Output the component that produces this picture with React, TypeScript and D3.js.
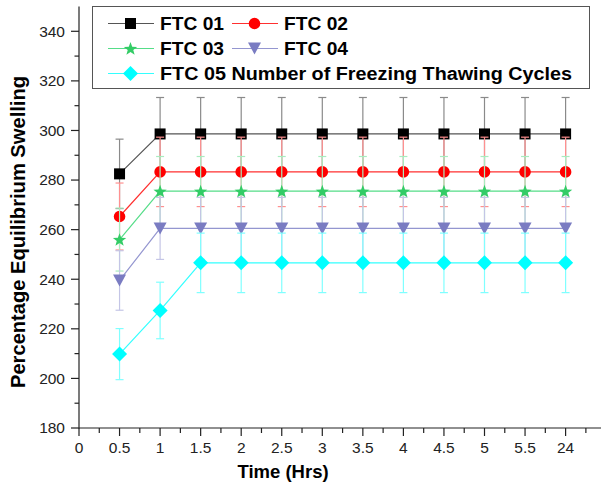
import React from 'react';
import * as d3 from 'd3';

// x categories (hours) and the five freeze-thaw series
const categories = ['0', '0.5', '1', '1.5', '2', '2.5', '3', '3.5', '4', '4.5', '5', '5.5', '24'];
const times = ['0.5', '1', '1.5', '2', '2.5', '3', '3.5', '4', '4.5', '5', '5.5', '24'];

const ftc01 = [282.5, 298.6, 298.6, 298.6, 298.6, 298.6, 298.6, 298.6, 298.6, 298.6, 298.6, 298.6];
const ftc01Err = [14, 14.7, 14.7, 14.7, 14.7, 14.7, 14.7, 14.7, 14.7, 14.7, 14.7, 14.7];
const ftc02 = [265.3, 283.3, 283.3, 283.3, 283.3, 283.3, 283.3, 283.3, 283.3, 283.3, 283.3, 283.3];
const ftc02Err = [13.5, 14, 14, 14, 14, 14, 14, 14, 14, 14, 14, 14];
const ftc03 = [256, 275.5, 275.5, 275.5, 275.5, 275.5, 275.5, 275.5, 275.5, 275.5, 275.5, 275.5];
const ftc03Err = [12.7, 14, 14, 14, 14, 14, 14, 14, 14, 14, 14, 14];
const ftc04 = [239.5, 260.5, 260.5, 260.5, 260.5, 260.5, 260.5, 260.5, 260.5, 260.5, 260.5, 260.5];
const ftc04Err = [12, 12.5, 12.5, 12.5, 12.5, 12.5, 12.5, 12.5, 12.5, 12.5, 12.5, 12.5];
const ftc05 = [209.8, 227.4, 246.6, 246.6, 246.6, 246.6, 246.6, 246.6, 246.6, 246.6, 246.6, 246.6];
const ftc05Err = [10.3, 11.4, 12, 12, 12, 12, 12, 12, 12, 12, 12, 12];

const yTicks = [180, 200, 220, 240, 260, 280, 300, 320, 340];

const legendLabels = ['FTC 01', 'FTC 02', 'FTC 03', 'FTC 04', 'FTC 05 Number of Freezing Thawing Cycles'];

const W = 601;
const H = 485;

const starPath = (ro: number, ri: number) => {
  const pts: [number, number][] = [];
  for (let i = 0; i < 10; i++) {
    const r = i % 2 === 0 ? ro : ri;
    const a = -Math.PI / 2 + (i * Math.PI) / 5;
    pts.push([r * Math.cos(a), r * Math.sin(a) + 0.6]);
  }
  return 'M' + pts.map((p) => p.join(',')).join('L') + 'Z';
};

const markers: Record<string, string> = {
  square: 'M-5.5,-5.5L5.5,-5.5L5.5,5.5L-5.5,5.5Z',
  circle: d3.symbol(d3.symbolCircle, Math.PI * 5.8 * 5.8)() as string,
  star: starPath(7, 2.9),
  triangle: 'M-6.5,-6L6.5,-6L0,6Z',
  diamond: 'M0,-7.5L7.5,0L0,7.5L-7.5,0Z',
};

const series = [
  { name: legendLabels[0], values: ftc01, err: ftc01Err, color: '#000000', line: '#555555', errColor: '#8a8a8a', marker: 'square' },
  { name: legendLabels[1], values: ftc02, err: ftc02Err, color: '#ff0000', line: '#ff3030', errColor: '#ff9090', marker: 'circle' },
  { name: legendLabels[2], values: ftc03, err: ftc03Err, color: '#33cc66', line: '#55dd88', errColor: '#a8ecbf', marker: 'star' },
  { name: legendLabels[3], values: ftc04, err: ftc04Err, color: '#7a7cc2', line: '#9496d0', errColor: '#c4c5e6', marker: 'triangle' },
  { name: legendLabels[4], values: ftc05, err: ftc05Err, color: '#00ffff', line: '#33ffff', errColor: '#80ffff', marker: 'diamond' },
];

export default function App() {
  const x0 = 79;
  const step = 40.55;
  const x = d3.scaleLinear().domain([0, 13]).range([x0, x0 + 13 * step]);
  const y = d3.scaleLinear().domain([180, 350]).range([428, 6.5]);
  const xi = (t: string) => categories.indexOf(t);

  const line = d3
    .line<number>()
    .x((_, i) => x(xi(times[i])))
    .y((d) => y(d));

  const yMinor = d3.range(190, 350, 20);
  const xMinor = d3.range(0.5, 13, 1);
  const font = '"Liberation Sans", Arial, sans-serif';

  return (
    <svg width={W} height={H} style={{ position: 'absolute', left: 0, top: 0, background: '#fff' }} fontFamily={font}>
      {/* axes */}
      <g stroke="#222" strokeWidth={1.2} fill="none">
        <line x1={x0} x2={x0} y1={y(350)} y2={428.5} />
        <line x1={x0} x2={W} y1={428} y2={428} />
        {yTicks.map((t) => (
          <line key={'yt' + t} x1={x0 - 8} x2={x0} y1={y(t)} y2={y(t)} />
        ))}
        {yMinor.map((t) => (
          <line key={'ym' + t} x1={x0 - 4.5} x2={x0} y1={y(t)} y2={y(t)} />
        ))}
        {categories.map((c, i) => (
          <line key={'xt' + c} x1={x(i)} x2={x(i)} y1={428} y2={436} />
        ))}
        {xMinor.map((t) => (
          <line key={'xm' + t} x1={x(t)} x2={x(t)} y1={428} y2={433} />
        ))}
      </g>
      <g fontSize={15.5} fill="#222">
        {yTicks.map((t) => (
          <text key={'yl' + t} x={65} y={y(t)} dy="0.35em" textAnchor="end">
            {t}
          </text>
        ))}
        {categories.map((c, i) => (
          <text key={'xl' + c} x={x(i)} y={453} textAnchor="middle">
            {c}
          </text>
        ))}
      </g>
      <text x={283} y={478} textAnchor="middle" fontSize={18.5} fontWeight="bold">
        Time (Hrs)
      </text>
      <text
        transform="translate(25,232) rotate(-90)"
        textAnchor="middle"
        fontSize={20}
        fontWeight="bold"
        textLength={312}
        lengthAdjust="spacingAndGlyphs"
      >
        Percentage Equilibrium Swelling
      </text>

      {/* series */}
      {series.map((s) => (
        <g key={s.name}>
          <g stroke={s.errColor} strokeWidth={1.2}>
            {s.values.map((v, i) => {
              const cx = x(xi(times[i]));
              const top = y(v + s.err[i]);
              const bot = y(v - s.err[i]);
              return (
                <g key={i}>
                  <line x1={cx} x2={cx} y1={top} y2={bot} />
                  <line x1={cx - 4} x2={cx + 4} y1={top} y2={top} />
                  <line x1={cx - 4} x2={cx + 4} y1={bot} y2={bot} />
                </g>
              );
            })}
          </g>
          <path d={line(s.values) as string} fill="none" stroke={s.line} strokeWidth={1.2} />
          {s.values.map((v, i) => (
            <path key={i} d={markers[s.marker]} transform={`translate(${x(xi(times[i]))},${y(v)})`} fill={s.color} />
          ))}
        </g>
      ))}

      {/* legend */}
      <rect x={92.5} y={6.5} width={497} height={82} fill="#fff" stroke="#555" strokeWidth={1} />
      {series.map((s, i) => {
        const row = i === 4 ? 2 : Math.floor(i / 2);
        const col = i === 4 ? 0 : i % 2;
        const lx = col === 0 ? 108 : 232;
        const cy = 23.5 + row * 25;
        return (
          <g key={'lg' + s.name}>
            <line x1={lx} x2={lx + 46} y1={cy} y2={cy} stroke={s.line} strokeWidth={1.2} />
            <path d={markers[s.marker]} transform={`translate(${lx + 22.5},${cy})`} fill={s.color} />
            <text
              x={lx + 52}
              y={cy}
              dy="0.36em"
              fontSize={18}
              fontWeight="bold"
              fill="#000"
              textLength={i === 4 ? 412 : 64}
              lengthAdjust="spacingAndGlyphs"
            >
              {s.name}
            </text>
          </g>
        );
      })}
    </svg>
  );
}
